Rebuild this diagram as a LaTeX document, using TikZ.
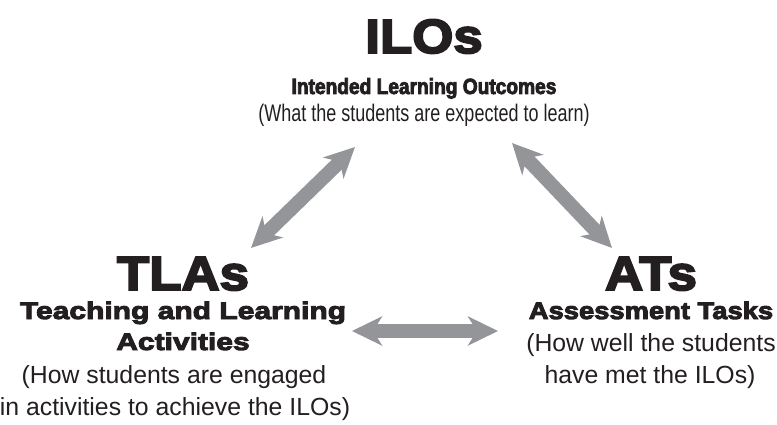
\documentclass[tikz,border=0pt]{standalone}
\usepackage{fontspec}
\setmainfont{Liberation Sans}
\newfontfamily\titlefont[FakeBold=4,FakeStretch=1.1]{Liberation Sans Bold}
\newfontfamily\subfont[FakeBold=4,FakeStretch=1.25]{Liberation Sans Bold}
\newfontfamily\narrowsubfont[FakeBold=4,FakeStretch=1.14]{Liberation Sans Bold}
\newfontfamily\topsubfont[FakeBold=3.5,FakeStretch=0.87]{Liberation Sans Bold}
\newfontfamily\topnotefont[FakeStretch=0.75]{Liberation Sans}
\usetikzlibrary{arrows.meta}
\definecolor{arrowgray}{HTML}{939598}
\definecolor{inkblack}{HTML}{231F20}
\begin{document}
\begin{tikzpicture}[x=1pt,y=1pt,
    title/.style={anchor=base,inner sep=0pt,text=inkblack,font=\titlefont\fontsize{48}{48}\selectfont},
    subtitle/.style={anchor=base,inner sep=0pt,text=inkblack,font=\subfont\fontsize{24}{24}\selectfont},
    topsubtitle/.style={anchor=base,inner sep=0pt,text=inkblack,font=\topsubfont\fontsize{22}{22}\selectfont},
    note/.style={anchor=base,inner sep=0pt,text=inkblack,font=\fontsize{24.8}{24.8}\selectfont},
    topnote/.style={anchor=base,inner sep=0pt,text=inkblack,font=\topnotefont\fontsize{24}{24}\selectfont},
    twoway/.style={draw=arrowgray,line width=14pt,
      {Stealth[length=30pt,width=29pt,inset=9pt]}-{Stealth[length=30pt,width=29pt,inset=9pt]}}]
    \useasboundingbox (0,0) rectangle (777,424);
    %% ILOs
    \node[title] (ilo) at (424,371) {ILOs};
    \node[topsubtitle] (ilo-sub) at (424,330) {Intended Learning Outcomes};
    \node[topnote] (ilo-note) at (424,302) {(What the students are expected to learn)};
    %% TLAs
    \node[title] (tla) at (183,134) {TLAs};
    \node[subtitle] (tla-sub) at (183,105) {Teaching and Learning};
    \node[subtitle] (tla-sub2) at (183,74) {Activities};
    \node[note] (tla-note) at (174,41) {(How students are engaged};
    \node[note] (tla-note2) at (175,9) {in activities to achieve the ILOs)};
    %% ATs
    \node[title] (at) at (651,134) {ATs};
    \node[subtitle,font=\narrowsubfont\fontsize{24}{24}\selectfont] (at-sub) at (651,105) {Assessment Tasks};
    \node[note] (at-note) at (651,73) {(How well the students};
    \node[note] (at-note2) at (650,41) {have met the ILOs)};
    %% Arrows
    \coordinate (ilo-l) at (355,277);
    \coordinate (ilo-r) at (512,281);
    \coordinate (tla-t) at (251,176);
    \coordinate (tla-r) at (352,93);
    \coordinate (at-t) at (612,176);
    \coordinate (at-l) at (498,93);
    \draw[twoway] (tla-t) -- (ilo-l);
    \draw[twoway] (ilo-r) -- (at-t);
    \draw[twoway] (tla-r) -- (at-l);
\end{tikzpicture}
\end{document}
